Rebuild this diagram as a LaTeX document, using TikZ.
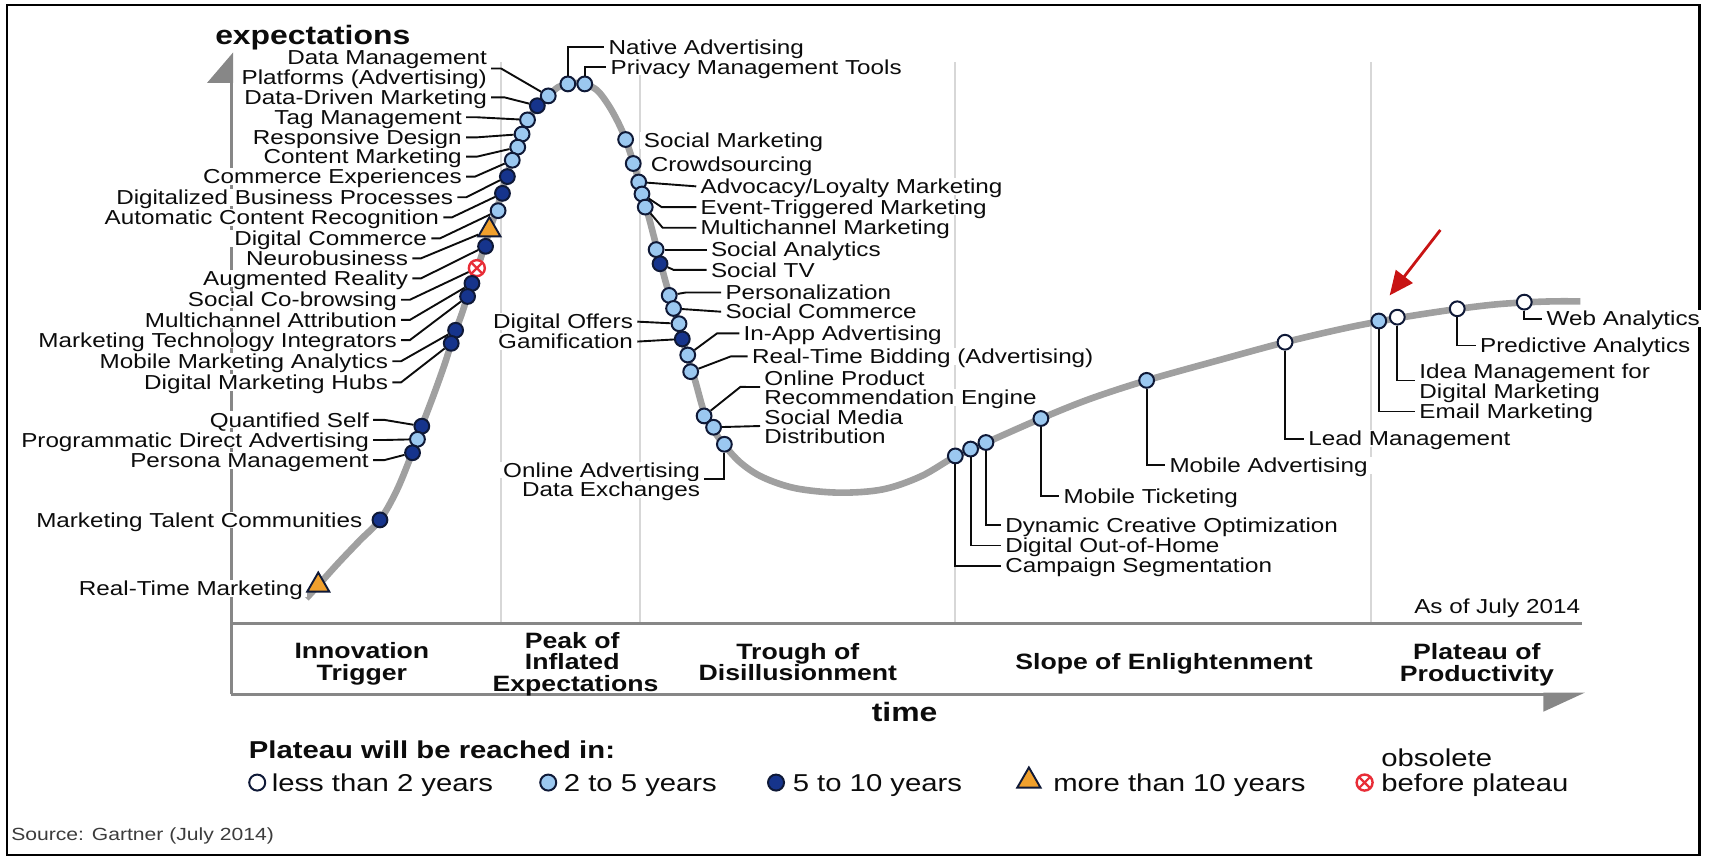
\documentclass[tikz,border=0pt]{standalone}
\usepackage{fontspec}
\setmainfont{Liberation Sans}[FakeStretch=1.2]
\usetikzlibrary{shapes.geometric,arrows.meta}
\definecolor{lightb}{RGB}{155,200,240}
\definecolor{darkb}{RGB}{22,52,140}
\definecolor{cbord}{RGB}{15,25,55}
\definecolor{orng}{RGB}{240,160,45}
\definecolor{obsred}{RGB}{232,45,55}
\definecolor{curvegray}{RGB}{160,160,160}
\definecolor{axisgray}{RGB}{135,135,135}
\definecolor{divgray}{RGB}{215,215,215}
\definecolor{txt}{RGB}{12,12,12}
\definecolor{arrred}{RGB}{200,20,20}
\definecolor{srcgray}{RGB}{60,60,60}
\newcommand\lblfont{\fontsize{10.1}{10}\selectfont}
\newcommand\phasefont{\fontsize{11.1}{11}\selectfont\bfseries}
\newcommand\axisfont{\fontsize{13.3}{14}\selectfont\bfseries}
\newcommand\legtitlefont{\fontsize{12.2}{13}\selectfont\bfseries}
\newcommand\legfont{\fontsize{12.2}{13}\selectfont}
\newcommand\asoffont{\fontsize{10.1}{11}\selectfont}
\newcommand\srcfont{\fontsize{8.8}{10}\selectfont}
\begin{document}
\begin{tikzpicture}[x=0.545pt,y=-0.545pt,
  lbl/.style={font=\lblfont, text=txt, inner xsep=2pt, inner ysep=0.6pt, text height=7.2pt, text depth=0pt, fill=white},
  phase/.style={font=\phasefont, text=txt, inner sep=0pt, text height=7.95pt, text depth=0pt},
  legtxt/.style={font=\legfont, text=txt, inner sep=0pt, text height=8.7pt, text depth=0pt, anchor=west},
  lt/.style={circle, draw=cbord, line width=1pt, fill=lightb, minimum size=7.4pt, inner sep=0pt},
  dk/.style={lt, fill=darkb},
  wt/.style={lt, fill=white},
  tri/.style={regular polygon, regular polygon sides=3, draw=cbord, line width=0.95pt, fill=orng, minimum size=12.8pt, inner sep=0pt},
  obs/.style={circle, draw=obsred, line width=1.2pt, fill=white, minimum size=8pt, inner sep=0pt,
    path picture={\draw[obsred, line width=1.1pt] (path picture bounding box.south west) -- (path picture bounding box.north east)
      (path picture bounding box.north west) -- (path picture bounding box.south east);}},
  conn/.style={draw=txt, line width=0.95pt},
  divl/.style={draw=divgray, line width=1.1pt},
  axl/.style={draw=axisgray, line width=1.6pt}
]
\useasboundingbox (0,0) rectangle (1568,786.3);
% frame
\draw[black, line width=1.3pt] (6.4,4.6) rectangle (1559,784.5);
% phase dividers
\draw[divl] (460,57) -- (460,572);
\draw[divl] (587,57) -- (587,572);
\draw[divl] (876,57) -- (876,572);
\draw[divl] (1258,57) -- (1258,572);
% axes
\draw[axl] (212.5,637) -- (212.5,74);
\fill[axisgray] (214,48) -- (190,76) -- (214,76) -- cycle;
\draw[axl] (211.7,572) -- (1451,572);
\draw[axl] (211.7,637) -- (1420,637);
\fill[axisgray] (1416,635.5) -- (1454,635.5) -- (1416,653) -- cycle;
% hype curve
\draw[curvegray, line width=3.3pt] plot[smooth, tension=0.55] coordinates {
(281,549) (292,537) (310,517) (330,496) (348.6,477) (364,450) (378,416) (387,391) (398,362) (408,334)
(416,309) (424,287) (432,262) (440,240) (449,212) (457,188) (464,164) (471,143) (478,124) (484,111)
(493,97) (503,88) (512,80) (521,77) (530,76) (537,77) (548,83) (558,96) (567,112) (574,128)
(582,152) (590,180) (596,202) (603,229) (610,256) (617,280) (624,304) (631,328) (638,350) (646,378)
(655,395) (665,409) (680,425) (700,438) (730,448) (770,452) (810,449) (845,437) (876,419) (905,406)
(955,384) (1000,366) (1052,349) (1120,330) (1179,314) (1230,302) (1265,295) (1300,289) (1337,283.5)
(1370,279.5) (1398,277.5) (1425,276.5) (1450,276.5)};
% axis titles
\node[font=\axisfont, text=txt, anchor=base, inner sep=0pt] (ylab) at (287,41) {expectations};
\node[font=\axisfont, text=txt, anchor=base, inner sep=0pt] (xlab) at (830,662) {time};
\node[font=\asoffont, text=txt, anchor=base east, inner sep=0pt] (asof) at (1450,563) {As of July 2014};
% phase names
\node[phase] (ph1a) at (332,597) {Innovation};
\node[phase] (ph1b) at (332,617) {Trigger};
\node[phase] (ph2a) at (525,588) {Peak of};
\node[phase] (ph2b) at (525,607) {Inflated};
\node[phase] (ph2c) at (528,627) {Expectations};
\node[phase] (ph3a) at (732,598) {Trough of};
\node[phase] (ph3b) at (732,617) {Disillusionment};
\node[phase] (ph4) at (1068,607) {Slope of Enlightenment};
\node[phase] (ph5a) at (1355,598) {Plateau of};
\node[phase] (ph5b) at (1355,618) {Productivity};
% ---------- left labels ----------
\node[lbl, anchor=east] (t1a) at (450.7,52.6) {Data Management};
\node[lbl, anchor=east] (t1b) at (450.7,70.9) {Platforms (Advertising)};
\node[lbl, anchor=east] (t2) at (450.7,89.3) {Data-Driven Marketing};
\node[lbl, anchor=east] (t3) at (427.7,107.6) {Tag Management};
\node[lbl, anchor=east] (t4) at (427.7,126) {Responsive Design};
\node[lbl, anchor=east] (t5) at (427.7,143.7) {Content Marketing};
\node[lbl, anchor=east] (t6) at (427.7,162.1) {Commerce Experiences};
\node[lbl, anchor=east] (t7) at (419.7,181) {Digitalized Business Processes};
\node[lbl, anchor=east] (t8) at (406.7,199.4) {Automatic Content Recognition};
\node[lbl, anchor=east] (t9) at (395.7,218.7) {Digital Commerce};
\node[lbl, anchor=east] (t10) at (378.3,237) {Neurobusiness};
\node[lbl, anchor=east] (t11) at (378.3,255.4) {Augmented Reality};
\node[lbl, anchor=east] (t12) at (368.1,275) {Social Co-browsing};
\node[lbl, anchor=east] (t13) at (368.1,293.5) {Multichannel Attribution};
\node[lbl, anchor=east] (t14) at (368.1,312) {Marketing Technology Integrators};
\node[lbl, anchor=east] (t15) at (360,331.4) {Mobile Marketing Analytics};
\node[lbl, anchor=east] (t16) at (360,350.8) {Digital Marketing Hubs};
\node[lbl, anchor=east] (t17) at (342.4,385.2) {Quantified Self};
\node[lbl, anchor=east] (t18) at (342.4,403.7) {Programmatic Direct Advertising};
\node[lbl, anchor=east] (t19) at (342.4,422.2) {Persona Management};
\node[lbl, anchor=east] (t20) at (336.4,477) {Marketing Talent Communities};
\node[lbl, anchor=east] (t21) at (282,540) {Real-Time Marketing};
% left circles
\node[lt] (c1) at (503,88) {};
\node[dk] (c2) at (493,97) {};
\node[lt] (c3) at (484,110) {};
\node[lt] (c4) at (479,123) {};
\node[lt] (c5) at (475,135) {};
\node[lt] (c6) at (470,147) {};
\node[dk] (c7) at (465.5,162) {};
\node[dk] (c8) at (461,177.4) {};
\node[lt] (c9) at (457,193.3) {};
\node[tri] (c10) at (449,211) {};
\node[dk] (c11) at (445.5,226) {};
\node[obs] (c12) at (437.5,246) {};
\node[dk] (c13) at (433,260) {};
\node[dk] (c14) at (429,272) {};
\node[dk] (c15) at (418,303) {};
\node[dk] (c16) at (414,315) {};
\node[dk] (c17) at (387,391) {};
\node[lt] (c18) at (383,403) {};
\node[dk] (c19) at (378.5,415.4) {};
\node[dk] (c20) at (348.6,477) {};
\node[tri] (c21) at (292,537) {};
% left connectors
\draw[conn] (t1b.north east) -- ++(9,0) -- (c1);
\draw[conn] (t2.east) -- ++(12,0) -- (c2);
\draw[conn] (t3.east) -- ++(10,0) -- (c3);
\draw[conn] (t4.east) -- ++(10,0) -- (c4);
\draw[conn] (t5.east) -- ++(10,0) -- (c5);
\draw[conn] (t6.east) -- ++(8,0) -- (c6);
\draw[conn] (t7.east) -- ++(8,0) -- (c7);
\draw[conn] (t8.east) -- ++(8,0) -- (c8);
\draw[conn] (t9.east) -- ++(8,0) -- (c9);
\draw[conn] (t10.east) -- ++(8,0) -- (c10);
\draw[conn] (t11.east) -- ++(8,0) -- (c11);
\draw[conn] (t12.east) -- ++(8,0) -- (c12);
\draw[conn] (t13.east) -- ++(8,0) -- (c13);
\draw[conn] (t14.east) -- ++(8,0) -- (c14);
\draw[conn] (t15.east) -- ++(8,0) -- (c15);
\draw[conn] (t16.east) -- ++(8,0) -- (c16);
\draw[conn] (t17.east) -- ++(10,0) -- (c17);
\draw[conn] (t18.east) -- ++(10,0) -- (c18);
\draw[conn] (t19.east) -- ++(10,0) -- (c19);
% ---------- peak / trough labels ----------
\node[lbl, anchor=west] (tn1) at (554.3,43.4) {Native Advertising};
\node[lbl, anchor=west] (tn2) at (556.3,61.5) {Privacy Management Tools};
\node[lbl, anchor=west] (ts1) at (586.8,129) {Social Marketing};
\node[lbl, anchor=west] (ts2) at (593.1,151) {Crowdsourcing};
\node[lbl, anchor=west] (ts3) at (638.8,171) {Advocacy/Loyalty Marketing};
\node[lbl, anchor=west] (ts4) at (638.8,190) {Event-Triggered Marketing};
\node[lbl, anchor=west] (ts5) at (638.8,209) {Multichannel Marketing};
\node[lbl, anchor=west] (ts6) at (648.3,229) {Social Analytics};
\node[lbl, anchor=west] (ts7) at (648.3,247.6) {Social TV};
\node[lbl, anchor=west] (ts8) at (661.6,268.4) {Personalization};
\node[lbl, anchor=west] (ts9) at (661.6,286) {Social Commerce};
\node[lbl, anchor=east] (ts10) at (584.7,295.1) {Digital Offers};
\node[lbl, anchor=east] (ts11) at (584.7,313.4) {Gamification};
\node[lbl, anchor=west] (ts12) at (678.3,305.8) {In-App Advertising};
\node[lbl, anchor=west] (ts13) at (686,327) {Real-Time Bidding (Advertising)};
\node[lbl, anchor=west] (ts14a) at (697.3,347) {Online Product};
\node[lbl, anchor=west] (ts14b) at (697.3,364.8) {Recommendation Engine};
\node[lbl, anchor=west] (ts15a) at (697.3,382.8) {Social Media};
\node[lbl, anchor=west] (ts15b) at (697.3,400.6) {Distribution};
\node[lbl, anchor=east] (ts16a) at (646.2,431.2) {Online Advertising};
\node[lbl, anchor=east] (ts16b) at (646.2,448.9) {Data Exchanges};
% circles
\node[lt] (cn1) at (521,77) {};
\node[lt] (cn2) at (536.5,77) {};
\node[lt] (cs1) at (574,128) {};
\node[lt] (cs2) at (581,150) {};
\node[lt] (cs3) at (586,167) {};
\node[lt] (cs4) at (589,178) {};
\node[lt] (cs5) at (592,190) {};
\node[lt] (cs6) at (602,229) {};
\node[dk] (cs7) at (605.6,242) {};
\node[lt] (cs8) at (614,271) {};
\node[lt] (cs9) at (618,283) {};
\node[lt] (cs10) at (623,297) {};
\node[dk] (cs11) at (626,311) {};
\node[lt] (cs12) at (631,325.7) {};
\node[lt] (cs13) at (633.7,341) {};
\node[lt] (cs14) at (646,381.6) {};
\node[lt] (cs15) at (654.7,392) {};
\node[lt] (cs16) at (664.6,407.6) {};
% connectors
\draw[conn] (cn1) -- (cn1 |- tn1.west) -- (tn1.west);
\draw[conn] (cn2) -- (cn2 |- tn2.west) -- (tn2.west);
\draw[conn] (cs3) -- (ts3.west);
\draw[conn] (cs4) -- (607,190) -- (ts4.west);
\draw[conn] (cs5) -- (608,209) -- (ts5.west);
\draw[conn] (cs6) -- (ts6.west);
\draw[conn] (cs7) -- (618,247.6) -- (ts7.west);
\draw[conn] (cs8) -- (629,268.4) -- (ts8.west);
\draw[conn] (cs9) -- (ts9.west);
\draw[conn] (ts10.east) -- (cs10);
\draw[conn] (ts11.east) -- (cs11);
\draw[conn] (cs12) -- (658,305.8) -- (ts12.west);
\draw[conn] (cs13) -- (670.5,327) -- (ts13.west);
\draw[conn] (cs14) -- (679.3,355) -- (ts14a.south west);
\draw[conn] (cs15) -- (ts15a.south west);
\draw[conn] (cs16) -- (cs16 |- ts16a.south east) -- (ts16a.south east);
% ---------- slope / plateau ----------
\node[lbl, anchor=west] (tp1) at (918.3,519) {Campaign Segmentation};
\node[lbl, anchor=west] (tp2) at (918.3,500.5) {Digital Out-of-Home};
\node[lbl, anchor=west] (tp3) at (918.3,482) {Dynamic Creative Optimization};
\node[lbl, anchor=west] (tp4) at (971.9,455) {Mobile Ticketing};
\node[lbl, anchor=west] (tp5) at (1069,427) {Mobile Advertising};
\node[lbl, anchor=west] (tp6) at (1196.3,402.5) {Lead Management};
\node[lbl, anchor=west] (tp7) at (1298.3,377.5) {Email Marketing};
\node[lbl, anchor=west] (tp8a) at (1298.3,341) {Idea Management for};
\node[lbl, anchor=west] (tp8b) at (1298.3,359.3) {Digital Marketing};
\node[lbl, anchor=west] (tp9) at (1354,317) {Predictive Analytics};
\node[lbl, anchor=west] (tp10) at (1415,292.4) {Web Analytics};
\node[lt] (cp1) at (876.5,418.3) {};
\node[lt] (cp2) at (890.5,412) {};
\node[lt] (cp3) at (904.6,406) {};
\node[lt] (cp4) at (955,384) {};
\node[lt] (cp5) at (1052,349) {};
\node[wt] (cp6) at (1179,314) {};
\node[lt] (cp7) at (1265,294.5) {};
\node[wt] (cp8) at (1282,291) {};
\node[wt] (cp9) at (1337,283.3) {};
\node[wt] (cp10) at (1398.5,277.2) {};
\draw[conn] (cp1) -- (cp1 |- tp1.west) -- (tp1.west);
\draw[conn] (cp2) -- (cp2 |- tp2.west) -- (tp2.west);
\draw[conn] (cp3) -- (cp3 |- tp3.west) -- (tp3.west);
\draw[conn] (cp4) -- (cp4 |- tp4.west) -- (tp4.west);
\draw[conn] (cp5) -- (cp5 |- tp5.west) -- (tp5.west);
\draw[conn] (cp6) -- (cp6 |- tp6.west) -- (tp6.west);
\draw[conn] (cp7) -- (cp7 |- tp7.west) -- (tp7.west);
\draw[conn] (cp8) -- (cp8 |- tp8a.south west) -- (tp8a.south west);
\draw[conn] (cp9) -- (cp9 |- tp9.west) -- (tp9.west);
\draw[conn] (cp10) -- (cp10 |- tp10.west) -- (tp10.west);
% red arrow
\coordinate (arT) at (1321.5,211);
\coordinate (arH) at (1275,271);
\draw[arrred, line width=1.4pt, -{Triangle[length=12pt,width=10.5pt]}] (arT) -- (arH);
% ---------- legend ----------
\node[font=\legtitlefont, text=txt, anchor=base west, inner sep=0pt] (legt) at (228,696) {Plateau will be reached in:};
\node[wt, minimum size=8pt] (lg1) at (236,718) {};
\node[legtxt] (lx1) at (249,718) {less than 2 years};
\node[lt, minimum size=8pt] (lg2) at (503,718) {};
\node[legtxt] (lx2) at (517,718) {2 to 5 years};
\node[dk, minimum size=8pt] (lg3) at (712,718) {};
\node[legtxt] (lx3) at (727,718) {5 to 10 years};
\node[tri, minimum size=13.5pt] (lg4) at (944,716.5) {};
\node[legtxt] (lx4) at (966,718) {more than 10 years};
\node[obs, minimum size=8pt] (lg5) at (1252,718) {};
\node[legtxt] (lx5) at (1267,718) {before plateau};
\node[legtxt] (lx5b) at (1267,695) {obsolete};
\node[font=\srcfont, text=srcgray, anchor=base west, inner sep=0pt] (src) at (10,771.5) {Source: Gartner (July 2014)};
\end{tikzpicture}
\end{document}
